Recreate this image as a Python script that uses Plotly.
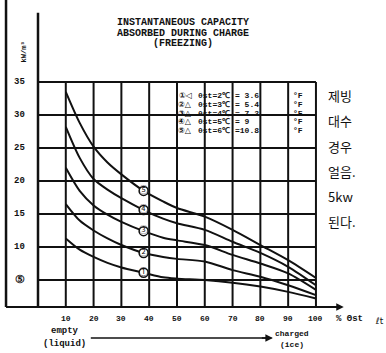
import plotly.graph_objects as go

# ---------------- data ----------------
fill_pct = [10, 15, 20, 25, 30, 38, 45, 50, 60, 70, 80, 90, 100]
cap_6c = [33.5, 28.8, 25.2, 22.8, 21.0, 18.5, 16.9, 15.9, 14.6, 12.6, 10.3, 8.0, 5.3]
cap_5c = [28.2, 23.5, 20.3, 18.7, 17.4, 15.6, 14.3, 13.6, 12.6, 10.8, 9.1, 7.0, 4.2]
cap_4c = [22.0, 18.5, 16.3, 14.9, 13.8, 12.4, 11.4, 11.0, 10.3, 8.8, 7.5, 6.0, 3.5]
cap_3c = [16.5, 14.0, 12.5, 11.3, 10.3, 9.1, 8.5, 8.2, 7.8, 6.5, 5.5, 4.2, 2.7]
cap_2c = [11.3, 9.6, 8.5, 7.6, 6.9, 6.1, 5.4, 5.2, 5.0, 4.6, 4.0, 3.2, 2.2]
series = [cap_6c, cap_5c, cap_4c, cap_3c, cap_2c]
marker_pct = 38
marker_labels = ["⑤", "④", "③", "②", "①"]

x_ticks = [10, 20, 30, 40, 50, 60, 70, 80, 90, 100]
x_tick_text = ["10", "20", "30", "40", "50", "60", "70", "80", "90", "100"]
y_ticks = [5, 10, 15, 20, 25, 30, 35]
y_tick_text = ["⑤", "10", "15", "20", "25", "30", "35"]

legend_sym = ["①◁", "②△", "③△", "④△", "⑤△"]
legend_c = ["θst=2℃", "θst=3℃", "θst=4℃", "θst=5℃", "θst=6℃"]
legend_f = ["= 3.6", "= 5.4", "= 7.2", "= 9", "=10.8"]
legend_rows = [32.9, 31.6, 30.3, 29.0, 27.7]

title_lines = ["INSTANTANEOUS CAPACITY", "ABSORBED DURING CHARGE", "(FREEZING)"]
korean_lines = ["제빙", "대수", "경우", "얼음.", "5kw", "된다."]

# -------------- geometry (data units) --------------
X0, X1 = -13.67, 125.2
Y0, Y1 = -6.06, 47.42
YB = 0.9     # bottom of grid
YT = 35      # top of grid
BLK = "#111111"
MONO = "Liberation Mono, DejaVu Sans Mono, monospace"

fig = go.Figure()

shapes = []
for xv in x_ticks:
    shapes.append(dict(type="line", xref="x", yref="y", x0=xv, x1=xv, y0=YB, y1=YT,
                       line=dict(color=BLK, width=2)))
for yv in y_ticks:
    shapes.append(dict(type="line", xref="x", yref="y", x0=0, x1=100, y0=yv, y1=yv,
                       line=dict(color=BLK, width=2)))
shapes.append(dict(type="line", xref="x", yref="y", x0=0, x1=0, y0=YB, y1=45.5,
                   line=dict(color=BLK, width=2.5)))
shapes.append(dict(type="line", xref="x", yref="y", x0=-11.5, x1=-11.5, y0=YB, y1=Y1,
                   line=dict(color=BLK, width=2.5)))
shapes.append(dict(type="line", xref="x", yref="y", x0=-11.5, x1=108, y0=YB, y1=YB,
                   line=dict(color=BLK, width=2)))
shapes.append(dict(type="line", xref="x", yref="y", x0=19, x1=84, y0=-3.8, y1=-3.8,
                   line=dict(color=BLK, width=1.5)))

for s in series:
    fig.add_trace(go.Scatter(x=fill_pct, y=s, mode="lines",
                             line=dict(color=BLK, width=2, shape="spline", smoothing=0.8),
                             showlegend=False, hoverinfo="skip"))
fig.add_trace(go.Scatter(x=[marker_pct] * len(series),
                         y=[s[fill_pct.index(marker_pct)] for s in series],
                         mode="markers+text", text=marker_labels,
                         textfont=dict(size=9, color=BLK, family="Noto Sans CJK KR"),
                         textposition="middle center",
                         marker=dict(size=9, color="white", line=dict(color=BLK, width=1.5)),
                         showlegend=False, hoverinfo="skip"))

ann = []
for xv, t in zip(x_ticks, x_tick_text):
    ann.append(dict(x=xv, y=-0.8, text="<b>" + t + "</b>", showarrow=False,
                    font=dict(size=8, color=BLK, family=MONO), xref="x", yref="y"))
for yv, t in zip(y_ticks, y_tick_text):
    ann.append(dict(x=-6.5, y=yv, text="<b>" + t + "</b>", showarrow=False,
                    font=dict(size=9 if t != "⑤" else 11, color=BLK, family=MONO), xref="x", yref="y"))
ann.append(dict(x=-5.0, y=39.5, text="<b>kW/m³</b>", textangle=-90, showarrow=False,
                font=dict(size=7, color=BLK, family=MONO), xref="x", yref="y"))
for i, t in enumerate(title_lines):
    ann.append(dict(x=52.2, y=[44.0, 42.4, 40.8][i], text="<b>" + t + "</b>", showarrow=False,
                    font=dict(size=10, color=BLK, family=MONO), xref="x", yref="y"))
for sym, c, f, yv in zip(legend_sym, legend_c, legend_f, legend_rows):
    ann.append(dict(x=52.9, y=yv, text="<b>" + sym + "</b>", showarrow=False,
                    font=dict(size=8, color=BLK, family="DejaVu Sans"), xref="x", yref="y"))
    ann.append(dict(x=56.8, y=yv, text="<b>" + c + "</b>", showarrow=False, xanchor="left",
                    font=dict(size=8, color=BLK, family=MONO), xref="x", yref="y"))
    ann.append(dict(x=70.0, y=yv, text="<b>" + f + "</b>", showarrow=False, xanchor="left",
                    font=dict(size=8, color=BLK, family=MONO), xref="x", yref="y"))
    ann.append(dict(x=91.2, y=yv, text="<b>°F</b>", showarrow=False, xanchor="left",
                    font=dict(size=8, color=BLK, family=MONO), xref="x", yref="y"))
ann.append(dict(x=110, y=YB, ax=104, ay=YB, axref="x", ayref="y", xref="x", yref="y",
                showarrow=True, arrowhead=2, arrowsize=1, arrowwidth=1.5, arrowcolor=BLK, text=""))
ann.append(dict(x=106.5, y=-0.9, text="<b>% Θst</b>", showarrow=False, xanchor="left",
                font=dict(size=9, color=BLK, family=MONO), xref="x", yref="y"))
ann.append(dict(x=120.5, y=-1.2, text="ℓt", showarrow=False, xanchor="left",
                font=dict(size=9, color=BLK, family="DejaVu Sans"), xref="x", yref="y"))
ann.append(dict(x=9.7, y=-2.7, text="<b>empty</b>", showarrow=False,
                font=dict(size=9, color=BLK, family=MONO), xref="x", yref="y"))
ann.append(dict(x=9.7, y=-4.7, text="<b>(liquid)</b>", showarrow=False,
                font=dict(size=9, color=BLK, family=MONO), xref="x", yref="y"))
ann.append(dict(x=84.5, y=-3.8, ax=80, ay=-3.8, axref="x", ayref="y", xref="x", yref="y",
                showarrow=True, arrowhead=2, arrowsize=1, arrowwidth=1.5, arrowcolor=BLK, text=""))
ann.append(dict(x=91.4, y=-3.1, text="<b>charged</b>", showarrow=False,
                font=dict(size=8, color=BLK, family=MONO), xref="x", yref="y"))
ann.append(dict(x=91.4, y=-4.8, text="<b>(ice)</b>", showarrow=False,
                font=dict(size=8, color=BLK, family=MONO), xref="x", yref="y"))
for i, t in enumerate(korean_lines):
    ann.append(dict(x=103.5, y=32.9 - i * 3.8, text=t, showarrow=False, xanchor="left",
                    font=dict(size=13, color=BLK, family="Noto Sans CJK KR"), xref="x", yref="y"))

fig.update_layout(
    width=386, height=353,
    margin=dict(l=0, r=0, t=0, b=0),
    paper_bgcolor="white", plot_bgcolor="white",
    xaxis=dict(range=[X0, X1], visible=False, fixedrange=True),
    yaxis=dict(range=[Y0, Y1], visible=False, fixedrange=True),
    shapes=shapes, annotations=ann, showlegend=False,
)
fig.write_html("out.html", config={"displayModeBar": False},
               post_script="document.body.style.margin='0';document.body.style.overflow='hidden';")
